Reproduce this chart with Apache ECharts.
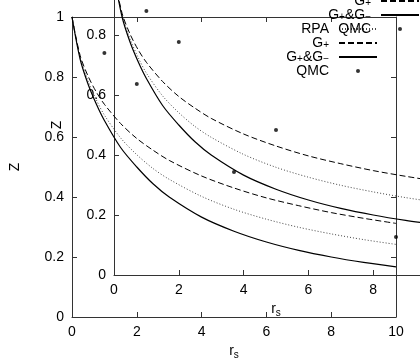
<!DOCTYPE html>
<html>
<head>
<meta charset="utf-8">
<script src="https://cdn.jsdelivr.net/npm/echarts@6/dist/echarts.min.js"></script>
<style>
  html, body { margin: 0; padding: 0; background: #fff; }
  #chartId { width: 420px; height: 360px; }
</style>
</head>
<body>
<div id="chartId"></div>
<script>
// r_s grid
var rs = [0, 0.25, 0.5, 0.75, 1, 1.5, 2, 2.5, 3, 4, 5, 6, 7, 8, 9, 10];
var zRPA = [1, 0.866, 0.786, 0.724, 0.673, 0.597, 0.541, 0.495, 0.459, 0.402, 0.359, 0.326, 0.299, 0.277, 0.258, 0.242];
var zGplus = [1, 0.872, 0.802, 0.75, 0.709, 0.645, 0.595, 0.556, 0.522, 0.47, 0.43, 0.397, 0.371, 0.348, 0.329, 0.312];
var zGpm = [1, 0.86, 0.775, 0.71, 0.655, 0.565, 0.5, 0.444, 0.4, 0.333, 0.286, 0.25, 0.222, 0.2, 0.182, 0.167];
// QMC points
var qmcRs = [1, 2, 5, 10];
var qmcZ = [0.88, 0.777, 0.483, 0.267];

function pairs(xs, ys) {
  return xs.map(function (x, i) { return [x, ys[i]]; });
}

var FONT = 'Liberation Sans';
var lineCol = '#333';

// the two panels are the same plot, the second one drawn shifted
var panels = [
  { left: 72, top: 17 },
  { left: 114, top: -25 }
];

var grids = [], xAxes = [], yAxes = [], series = [], legends = [];

panels.forEach(function (p, k) {
  grids.push({
    left: p.left, top: p.top, width: 324, height: 300,
    containLabel: false, outerBoundsMode: 'none'
  });
  var base = {
    gridIndex: k,
    type: 'value',
    axisLine: { onZero: false, lineStyle: { color: lineCol, width: 1 } },
    axisTick: { inside: true, length: 5, lineStyle: { color: lineCol } },
    splitLine: { show: false },
    axisLabel: { color: '#000', fontSize: 14, fontFamily: FONT, margin: 8 }
  };
  xAxes.push(Object.assign({}, base, {
    position: 'bottom', min: 0, max: 10, interval: 2,
    name: '{r|r}{s|s}', nameLocation: 'middle', nameGap: 24,
    nameTextStyle: {
      color: '#000', fontFamily: FONT,
      rich: {
        r: { fontSize: 14, lineHeight: 18, fontFamily: FONT, color: '#000' },
        s: { fontSize: 10, lineHeight: 6, verticalAlign: 'bottom', fontFamily: FONT, color: '#000' }
      }
    }
  }));
  xAxes.push(Object.assign({}, base, {
    position: 'top', min: 0, max: 10, interval: 2,
    axisLabel: { show: false }
  }));
  yAxes.push(Object.assign({}, base, {
    position: 'left', min: 0, max: 1, interval: 0.2,
    name: 'Z', nameLocation: 'middle', nameGap: 50,
    nameTextStyle: { color: '#000', fontSize: 14, fontFamily: FONT }
  }));
  yAxes.push(Object.assign({}, base, {
    position: 'right', min: 0, max: 1, interval: 0.2,
    axisLabel: { show: false }
  }));

  var xi = k * 2, yi = k * 2;
  series.push({
    name: 'RPA', type: 'line', xAxisIndex: xi, yAxisIndex: yi,
    data: pairs(rs, zRPA), smooth: 0.3, symbol: 'none',
    itemStyle: { color: '#444' },
    lineStyle: { color: '#444', width: 1, type: [1, 2] }
  });
  series.push({
    name: 'G+', type: 'line', xAxisIndex: xi, yAxisIndex: yi,
    data: pairs(rs, zGplus), smooth: 0.3, symbol: 'none',
    itemStyle: { color: '#000' },
    lineStyle: { color: '#000', width: 1, type: [6, 3] }
  });
  series.push({
    name: 'G+&G-', type: 'line', xAxisIndex: xi, yAxisIndex: yi,
    data: pairs(rs, zGpm), smooth: 0.3, symbol: 'none',
    itemStyle: { color: '#000' },
    lineStyle: { color: '#000', width: 1.2 }
  });
  series.push({
    name: 'QMC', type: 'scatter', xAxisIndex: xi, yAxisIndex: yi,
    data: pairs(qmcRs, qmcZ), symbol: 'circle', symbolSize: 4,
    itemStyle: { color: '#000' }
  });

  legends.push({
    orient: 'vertical', align: 'right',
    right: k === 0 ? 42 : 0, top: k === 0 ? 22 : -20,
    padding: 0, itemGap: 0, itemWidth: 38, itemHeight: 14,
    selectedMode: false,
    data: [
      { name: 'RPA', itemStyle: { opacity: 0 } },
      { name: 'G+', itemStyle: { opacity: 0 } },
      { name: 'G+&G-', itemStyle: { opacity: 0 } },
      { name: 'QMC', icon: 'path://M0 0M38 14M17 7a2 2 0 1 0 4 0a2 2 0 1 0 -4 0' }
    ],
    formatter: function (n) {
      if (n === 'G+') return '{t|G}{sub|+}';
      if (n === 'G+&G-') return '{t|G}{sub|+}{t|&G}{sub|\u2212}';
      return '{t|' + n + '}';
    },
    textStyle: {
      color: '#000', fontFamily: FONT, fontSize: 14, padding: [0, 5, 0, 0],
      rich: {
        t: { fontSize: 14, lineHeight: 14, fontFamily: FONT, color: '#000' },
        sub: { fontSize: 10, lineHeight: 4, verticalAlign: 'bottom', fontFamily: FONT, color: '#000' }
      }
    }
  });
});

var myChart = echarts.init(document.getElementById('chartId'));
myChart.setOption({
  animation: false,
  backgroundColor: '#fff',
  grid: grids,
  xAxis: xAxes,
  yAxis: yAxes,
  legend: legends,
  series: series
});
</script>
</body>
</html>
